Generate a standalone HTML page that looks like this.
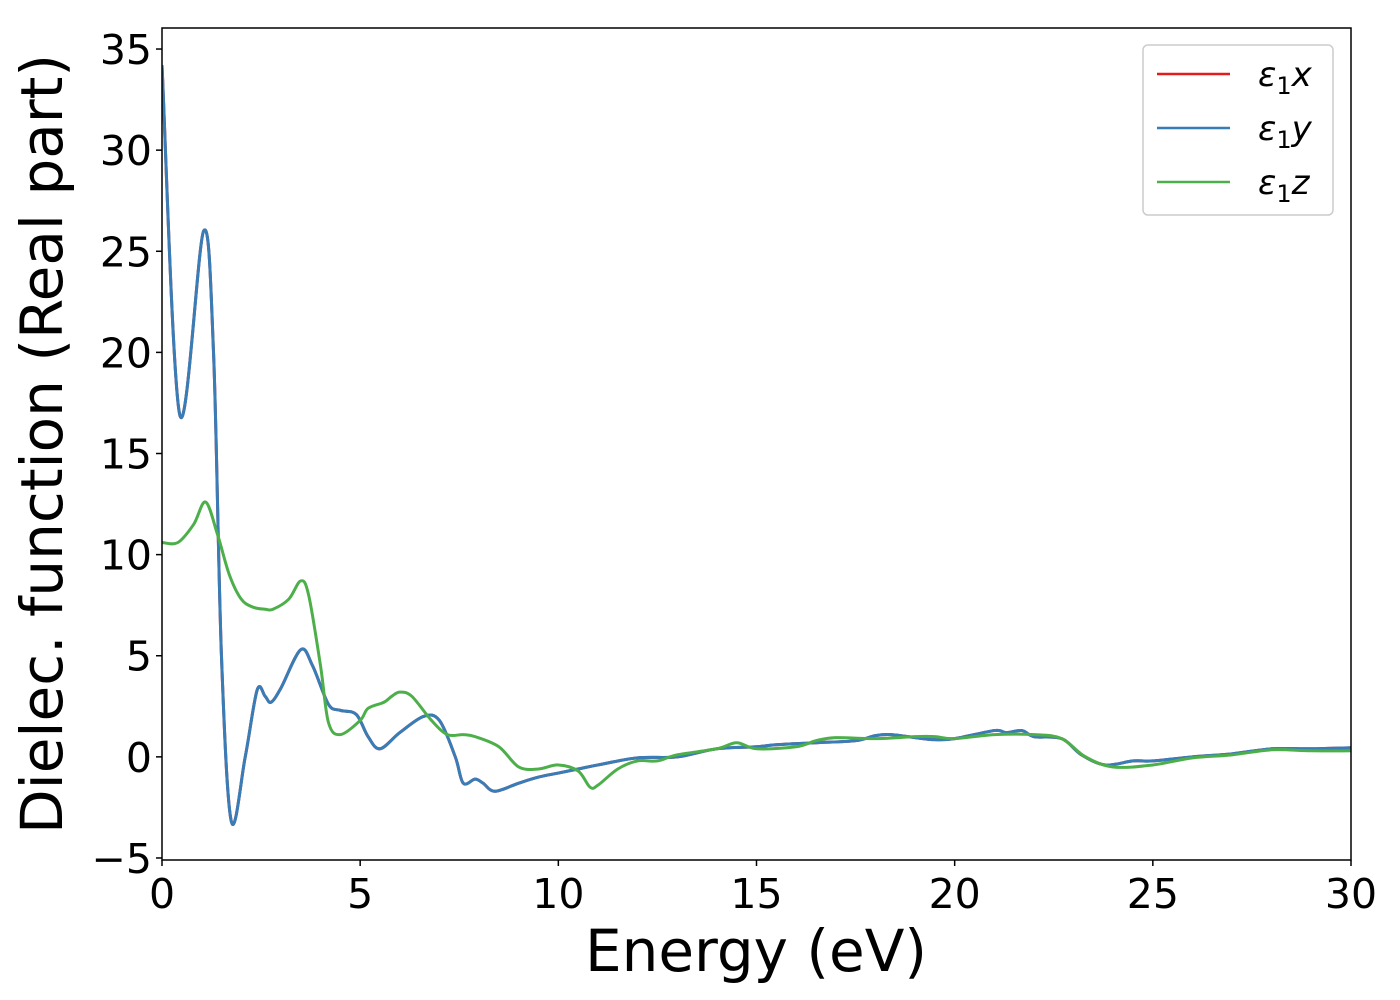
<!DOCTYPE html>
<html><head><meta charset="utf-8"><style>
body{margin:0;background:#fff}
svg{display:block;font-family:"DejaVu Sans","Liberation Sans",sans-serif}
</style></head><body>
<svg id="chart" width="1400" height="1000">
<rect x="0" y="0" width="1400" height="1000" fill="#fff"/>
<g id="plot"></g>
<g id="axes"></g>
<text x="756" y="971" font-size="58" text-anchor="middle">Energy (eV)</text>
<text transform="translate(62,444) rotate(-90)" font-size="58" text-anchor="middle">Dielec. function (Real part)</text>
<g>
<rect x="1143" y="45" width="190" height="170" rx="5" fill="#fff" stroke="#ccc" stroke-width="1.5"/>
<line x1="1157" y1="74" x2="1230" y2="74" stroke="#e41a1c" stroke-width="2.5"/>
<text x="1258" y="86" font-size="34" font-style="italic">ε<tspan font-style="normal" font-size="24" dy="8">1</tspan><tspan dy="-8">x</tspan></text>
<line x1="1157" y1="128" x2="1230" y2="128" stroke="#377eb8" stroke-width="2.5"/>
<text x="1258" y="140" font-size="34" font-style="italic">ε<tspan font-style="normal" font-size="24" dy="8">1</tspan><tspan dy="-8">y</tspan></text>
<line x1="1157" y1="182" x2="1230" y2="182" stroke="#4daf4a" stroke-width="2.5"/>
<text x="1258" y="194" font-size="34" font-style="italic">ε<tspan font-style="normal" font-size="24" dy="8">1</tspan><tspan dy="-8">z</tspan></text>
</g>
</svg>
<script>
const xyEnergy=[0,0.45,1.05,1.3,1.5,1.75,2.1,2.4,2.6,2.75,3.0,3.5,3.8,4.2,4.5,4.9,5.2,5.5,6.0,6.6,7.0,7.4,7.6,7.9,8.1,8.4,9.0,9.5,10,10.5,11,12,13,14,15,15.5,16.5,17.5,18,18.4,19,19.5,20,21,21.3,21.7,22,22.7,23.2,23.8,24.5,25,26,27,28,29,30];
const xyValues=[34.2,16.9,26,20,5,-3.2,0,3.3,3.0,2.7,3.4,5.3,4.5,2.6,2.3,2.1,1.0,0.4,1.2,2.0,1.8,0,-1.3,-1.1,-1.3,-1.7,-1.3,-1.0,-0.8,-0.6,-0.4,-0.05,0.0,0.4,0.5,0.6,0.7,0.8,1.05,1.1,0.95,0.85,0.9,1.3,1.2,1.3,1.0,0.9,0.1,-0.4,-0.2,-0.2,0,0.15,0.4,0.4,0.45];
const zEnergy=[0,0.4,0.8,1.1,1.4,1.7,2.0,2.3,2.6,2.8,3.2,3.5,3.7,4.0,4.2,4.5,5.0,5.2,5.6,5.8,6.0,6.3,6.8,7.2,7.6,7.9,8.5,9.0,9.5,10,10.5,10.8,11,11.5,12,12.5,13,14,14.5,15,16,16.5,17,18,19,19.5,20,21,22,22.7,23.3,24,25,26,27,28,29,30];
const zValues=[10.6,10.6,11.5,12.6,11,9,7.8,7.4,7.3,7.3,7.8,8.7,8.0,4.5,1.7,1.1,1.8,2.4,2.7,3.0,3.2,3.0,1.8,1.1,1.1,1.0,0.5,-0.5,-0.6,-0.4,-0.7,-1.5,-1.4,-0.6,-0.2,-0.2,0.1,0.4,0.7,0.4,0.5,0.8,0.95,0.9,1.0,1.0,0.9,1.1,1.1,0.9,0,-0.5,-0.4,-0.05,0.1,0.35,0.3,0.3];
const xTicks=[0,5,10,15,20,25,30];
const yTicks=[-5,0,5,10,15,20,25,30,35];
const L=162,R=1351,T=28,B=860;
const X0=0,X1=30,Y0=-5.1,Y1=36.04;
function sx(v){return L+(v-X0)/(X1-X0)*(R-L);}
function sy(v){return B-(v-Y0)/(Y1-Y0)*(B-T);}
const NS='http://www.w3.org/2000/svg';
function smooth(xs,ys){
  const p=xs.map((x,i)=>[sx(x),sy(ys[i])]);
  let d='M'+p[0][0]+','+p[0][1];
  for(let i=0;i<p.length-1;i++){
    const p0=p[i-1]||p[i],p1=p[i],p2=p[i+1],p3=p[i+2]||p[i+1];
    const c1=[p1[0]+(p2[0]-p0[0])/6,p1[1]+(p2[1]-p0[1])/6];
    const c2=[p2[0]-(p3[0]-p1[0])/6,p2[1]-(p3[1]-p1[1])/6];
    d+=' C'+c1+' '+c2+' '+p2;
  }
  return d;
}
const plot=document.getElementById('plot');
const defs=document.createElementNS(NS,'clipPath');defs.id='clip';
const cr=document.createElementNS(NS,'rect');
cr.setAttribute('x',L);cr.setAttribute('y',T);cr.setAttribute('width',R-L);cr.setAttribute('height',B-T);
defs.appendChild(cr);document.getElementById('chart').appendChild(defs);
plot.setAttribute('clip-path','url(#clip)');
function addLine(xs,ys,color,name){
  const p=document.createElementNS(NS,'path');
  p.setAttribute('d',smooth(xs,ys));p.setAttribute('fill','none');
  p.setAttribute('stroke',color);p.setAttribute('stroke-width','3');
  p.setAttribute('stroke-linejoin','round');
  
  
  plot.appendChild(p);
}
addLine(xyEnergy,xyValues,'#e41a1c','series-eps1-x');
addLine(xyEnergy,xyValues,'#377eb8','series-eps1-y');
addLine(zEnergy,zValues,'#4daf4a','series-eps1-z');
const axes=document.getElementById('axes');
const frame=document.createElementNS(NS,'rect');
frame.setAttribute('x',L);frame.setAttribute('y',T);frame.setAttribute('width',R-L);frame.setAttribute('height',B-T);
frame.setAttribute('fill','none');frame.setAttribute('stroke','#000');frame.setAttribute('stroke-width','1.5');


axes.appendChild(frame);
xTicks.forEach(t=>{
  const l=document.createElementNS(NS,'line');
  l.setAttribute('x1',sx(t));l.setAttribute('x2',sx(t));l.setAttribute('y1',B);l.setAttribute('y2',B+6);
  l.setAttribute('stroke','#000');l.setAttribute('stroke-width','1.5');
  
  
  axes.appendChild(l);
  const tx=document.createElementNS(NS,'text');
  tx.setAttribute('x',sx(t));tx.setAttribute('y',908);tx.setAttribute('font-size','41');tx.setAttribute('text-anchor','middle');
  tx.textContent=t;
  
  
  axes.appendChild(tx);
});
yTicks.forEach(t=>{
  const l=document.createElementNS(NS,'line');
  l.setAttribute('x1',L-6);l.setAttribute('x2',L);l.setAttribute('y1',sy(t));l.setAttribute('y2',sy(t));
  l.setAttribute('stroke','#000');l.setAttribute('stroke-width','1.5');
  
  
  axes.appendChild(l);
  const tx=document.createElementNS(NS,'text');
  tx.setAttribute('x',L-10);tx.setAttribute('y',sy(t)+15);tx.setAttribute('font-size','41');tx.setAttribute('text-anchor','end');
  tx.textContent=t<0?'\u2212'+Math.abs(t):t;
  
  
  axes.appendChild(tx);
});
</script>
</body></html>
